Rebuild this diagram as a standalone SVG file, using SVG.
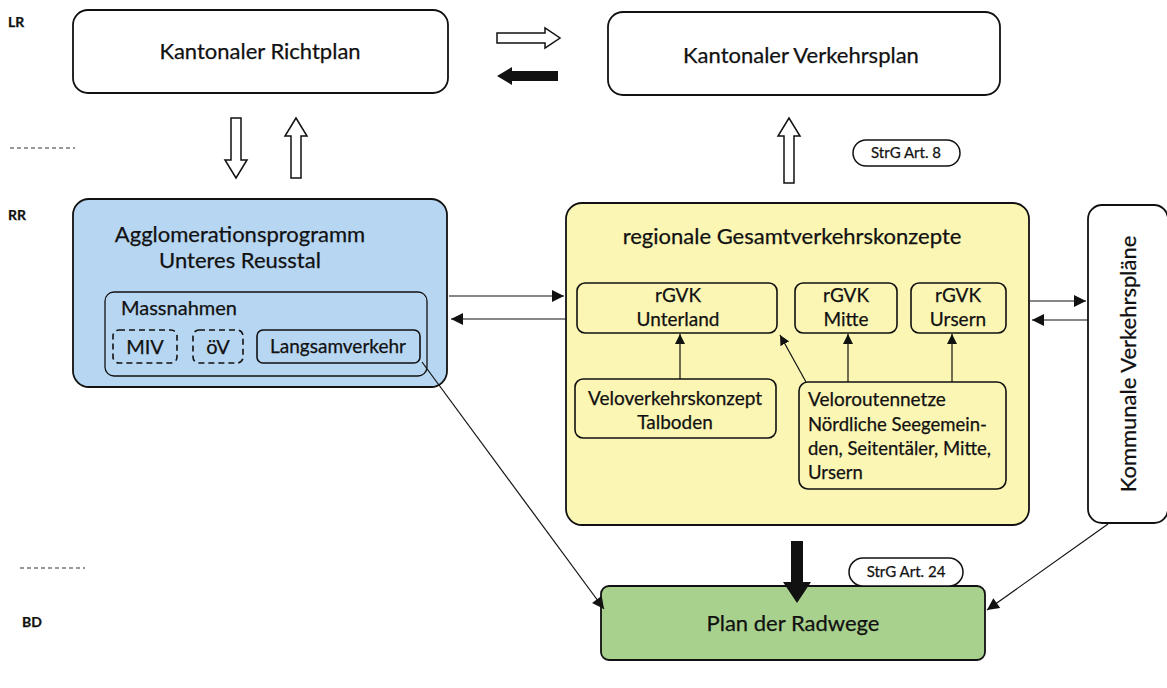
<svg xmlns="http://www.w3.org/2000/svg" width="1167" height="688" viewBox="0 0 1167 688">
<defs>
<marker id="ah" viewBox="0 0 10 10" refX="10" refY="5" markerWidth="10" markerHeight="10" markerUnits="userSpaceOnUse" orient="auto">
<path d="M0,0 L10,5 L0,10 z" fill="#111"/>
</marker>
<marker id="ahl" viewBox="0 0 10 10" refX="10" refY="5" markerWidth="13" markerHeight="12" markerUnits="userSpaceOnUse" orient="auto">
<path d="M0,0 L10,5 L0,10 z" fill="#111"/>
</marker>
</defs>
<style>
text{font-family:Lato,"Open Sans","Liberation Sans",sans-serif;fill:#111;stroke:#111;stroke-width:0.25}
.box{fill:#fff;stroke:#111;stroke-width:1.8}
.big{font-size:22px}
.mid{font-size:20px}
.sm{font-size:19px}
.vr{font-size:18.5px}
.pill{font-size:15px}
.lvl{font-size:14px;font-weight:bold}
.conn{stroke:#111;stroke-width:1.2;fill:none}
.blk{stroke:#111;stroke-width:1.5;fill:#fff}
.dash{stroke:#333;stroke-width:1.2;stroke-dasharray:4 3}
</style>
<rect width="1167" height="688" fill="#fff"/>

<g id="levels">
<text class="lvl" x="8" y="27">LR</text>
<text class="lvl" x="8" y="220">RR</text>
<text class="lvl" x="22" y="627">BD</text>
<line class="dash" x1="10" y1="148" x2="75" y2="148"/>
<line class="dash" x1="20" y1="568" x2="85" y2="568"/>
</g>

<g id="richtplan">
<rect class="box" x="73" y="10" width="375" height="83" rx="15"/>
<text class="big" x="260" y="59" text-anchor="middle">Kantonaler Richtplan</text>
</g>

<g id="verkehrsplan">
<rect class="box" x="608" y="12" width="392" height="83" rx="15"/>
<text class="big" x="801" y="63" text-anchor="middle">Kantonaler Verkehrsplan</text>
</g>

<g id="agglo">
<rect x="73" y="199" width="374" height="188" rx="16" fill="#b7d6f2" stroke="#111" stroke-width="1.8"/>
<text class="big" x="240" y="242" text-anchor="middle">Agglomerationsprogramm</text>
<text class="big" x="240" y="268" text-anchor="middle">Unteres Reusstal</text>
<rect x="105" y="292" width="322" height="84" rx="9" fill="none" stroke="#111" stroke-width="1.3"/>
<text class="mid" x="121" y="315">Massnahmen</text>
</g>
<g id="miv">
<rect x="113" y="330" width="64" height="33" rx="6" fill="none" stroke="#111" stroke-width="1.6" stroke-dasharray="6 4"/>
<text class="mid" x="145" y="354" text-anchor="middle">MIV</text>
</g>
<g id="oev">
<rect x="193" y="330" width="50" height="33" rx="6" fill="none" stroke="#111" stroke-width="1.6" stroke-dasharray="6 4"/>
<text class="mid" x="218" y="354" text-anchor="middle">öV</text>
</g>
<g id="langsam">
<rect x="257" y="330" width="163" height="33" rx="6" fill="none" stroke="#111" stroke-width="1.6"/>
<text class="sm" x="338" y="353" text-anchor="middle">Langsamverkehr</text>
</g>

<g id="rgvk">
<rect x="566" y="203" width="463" height="322" rx="16" fill="#fcf6b4" stroke="#111" stroke-width="1.8"/>
<text class="big" x="792" y="244" text-anchor="middle">regionale Gesamtverkehrskonzepte</text>
</g>
<g id="unterland">
<rect x="577" y="283" width="200" height="50" rx="8" fill="none" stroke="#111" stroke-width="1.6"/>
<text class="sm" x="678" y="302" text-anchor="middle">rGVK</text>
<text class="sm" x="678" y="326" text-anchor="middle">Unterland</text>
</g>
<g id="mitte">
<rect x="795" y="283" width="102" height="50" rx="8" fill="none" stroke="#111" stroke-width="1.6"/>
<text class="sm" x="846" y="302" text-anchor="middle">rGVK</text>
<text class="sm" x="846" y="326" text-anchor="middle">Mitte</text>
</g>
<g id="ursern">
<rect x="911" y="283" width="95" height="50" rx="8" fill="none" stroke="#111" stroke-width="1.6"/>
<text class="sm" x="958" y="302" text-anchor="middle">rGVK</text>
<text class="sm" x="958" y="326" text-anchor="middle">Ursern</text>
</g>
<g id="talboden">
<rect x="575" y="379" width="201" height="59" rx="8" fill="none" stroke="#111" stroke-width="1.6"/>
<text class="sm" x="675" y="405" text-anchor="middle">Veloverkehrskonzept</text>
<text class="sm" x="675" y="429" text-anchor="middle">Talboden</text>
</g>
<g id="veloroutennetze">
<rect x="799" y="382" width="207" height="107" rx="9" fill="none" stroke="#111" stroke-width="1.6"/>
<text class="sm" x="808" y="406">Veloroutennetze</text>
<text class="vr" x="808" y="431">Nördliche Seegemein-</text>
<text class="vr" x="808" y="455">den, Seitentäler, Mitte,</text>
<text class="vr" x="808" y="479">Ursern</text>
</g>

<g id="kommunal">
<rect class="box" x="1088" y="205" width="80" height="318" rx="14"/>
<text class="big" transform="translate(1136,364) rotate(-90)" text-anchor="middle">Kommunale Verkehrspläne</text>
</g>

<g id="radwege">
<rect x="601" y="586" width="384" height="74" rx="8" fill="#a9d18e" stroke="#111" stroke-width="1.8"/>
<text class="big" x="793" y="631" text-anchor="middle">Plan der Radwege</text>
</g>

<g id="art8">
<rect x="853" y="140" width="107" height="26" rx="13" fill="#fff" stroke="#111" stroke-width="1.5"/>
<text class="pill" x="906" y="158" text-anchor="middle">StrG Art. 8</text>
</g>
<g id="art24">
<rect x="849" y="558" width="114" height="28" rx="14" fill="#fff" stroke="#111" stroke-width="1.5"/>
<text class="pill" x="906" y="577" text-anchor="middle">StrG Art. 24</text>
</g>

<g id="connectors">
<path class="blk" d="M497,33 H545 V28 L560,38 L545,48 V43 H497 Z"/>
<path d="M497,76 L512,67 V71 H558 V81 H512 V85 Z" fill="#111"/>
<path class="blk" d="M231,118 H241 V160 H247 L236,178 L225,160 H231 Z"/>
<path class="blk" d="M291,178 H301 V136 H307 L296,118 L285,136 H291 Z"/>
<path class="blk" d="M784,183 H794 V136 H800 L789,118 L778,136 H784 Z"/>
<path d="M791,541 H803 V582 H811 L797,603 L783,582 H791 Z" fill="#111"/>
<line class="conn" x1="449" y1="296" x2="564" y2="296" marker-end="url(#ahl)"/>
<line class="conn" x1="566" y1="319" x2="451" y2="319" marker-end="url(#ahl)"/>
<line class="conn" x1="1030" y1="301" x2="1086" y2="301" marker-end="url(#ahl)"/>
<line class="conn" x1="1088" y1="320" x2="1032" y2="320" marker-end="url(#ahl)"/>
<line class="conn" x1="680" y1="379" x2="680" y2="334" marker-end="url(#ah)"/>
<line class="conn" x1="806" y1="382" x2="780" y2="335" marker-end="url(#ah)"/>
<line class="conn" x1="848" y1="382" x2="848" y2="334" marker-end="url(#ah)"/>
<line class="conn" x1="952" y1="382" x2="952" y2="334" marker-end="url(#ah)"/>
<line class="conn" x1="422" y1="362" x2="604" y2="609" marker-end="url(#ahl)"/>
<line class="conn" x1="1108" y1="524" x2="987" y2="610" marker-end="url(#ahl)"/>
</g>
</svg>
